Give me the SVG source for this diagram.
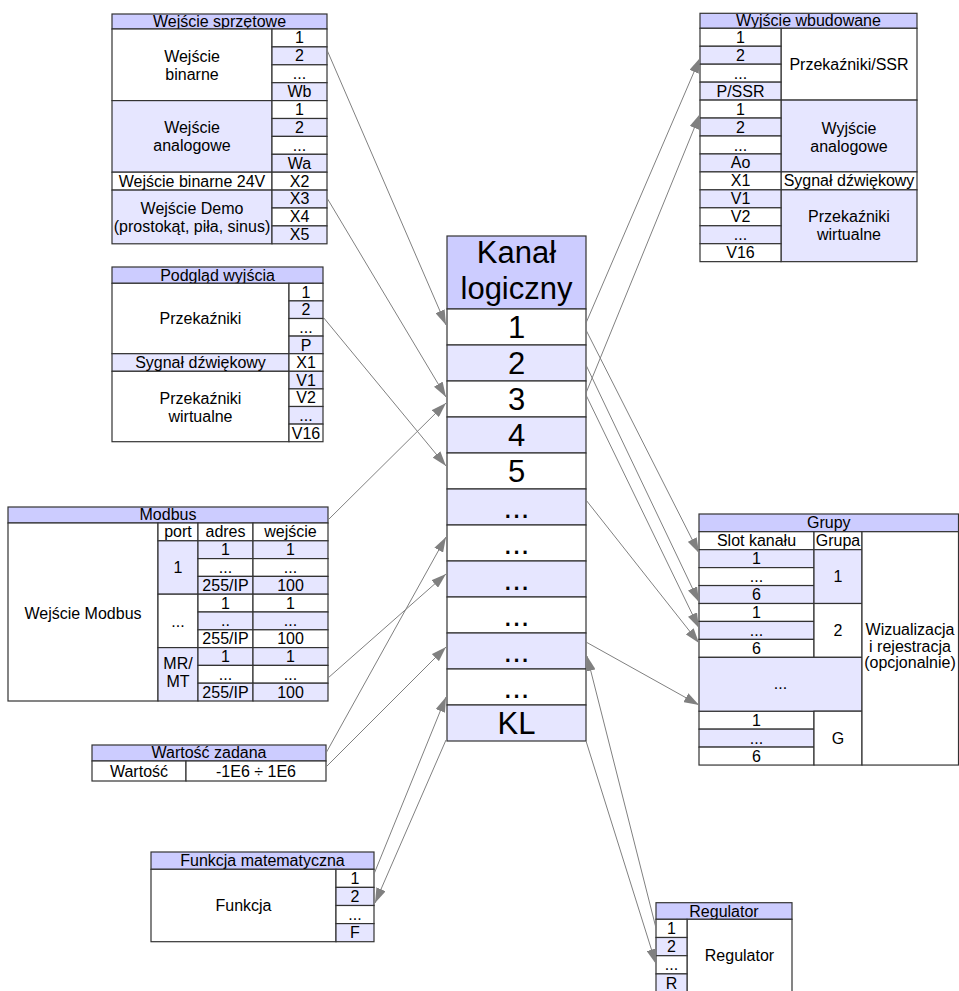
<svg xmlns="http://www.w3.org/2000/svg" width="959" height="991" viewBox="0 0 959 991">
<style>
.w,.l,.h{stroke:#333;stroke-width:1.2}
.w{fill:#fff}
.l{fill:#e6e6ff}
.h{fill:#ccccff}
text{font-family:"Liberation Sans",Arial,sans-serif;font-size:16px;text-anchor:middle;fill:#000}
.b{font-size:31px}
.c line{stroke:#808080;stroke-width:1;marker-end:url(#ah)}
</style>
<defs>
<marker id="ah" markerUnits="userSpaceOnUse" markerWidth="15" markerHeight="10" refX="15" refY="5" orient="auto" viewBox="0 0 15 10"><path d="M0,0L15,5L0,10z" fill="#808080"/></marker>
</defs>
<rect x="0" y="0" width="959" height="991" fill="#fff"/>

<g id="wejscie-sprzetowe">
<rect class="h" x="112" y="14" width="215" height="15"/>
<text x="219.5" y="26.5">Wejście sprzętowe</text>
<rect class="w" x="112" y="29" width="160" height="71.6"/>
<rect class="l" x="112" y="100.6" width="160" height="71.6"/>
<rect class="w" x="112" y="172.2" width="160" height="17.9"/>
<rect class="l" x="112" y="190.1" width="160" height="53.7"/>
<text x="192" y="61.5">Wejście</text><text x="192" y="79.5">binarne</text>
<text x="192" y="133">Wejście</text><text x="192" y="151">analogowe</text>
<text x="192" y="186.5">Wejście binarne 24V</text>
<text x="192" y="213.5">Wejście Demo</text><text x="192" y="231.5">(prostokąt, piła, sinus)</text>
<rect class="w" x="272" y="29" width="55" height="17.9"/>
<rect class="l" x="272" y="46.9" width="55" height="17.9"/>
<rect class="w" x="272" y="64.8" width="55" height="17.9"/>
<rect class="l" x="272" y="82.7" width="55" height="17.9"/>
<rect class="w" x="272" y="100.6" width="55" height="17.9"/>
<rect class="l" x="272" y="118.5" width="55" height="17.9"/>
<rect class="w" x="272" y="136.4" width="55" height="17.9"/>
<rect class="l" x="272" y="154.3" width="55" height="17.9"/>
<rect class="w" x="272" y="172.2" width="55" height="17.9"/>
<rect class="l" x="272" y="190.1" width="55" height="17.9"/>
<rect class="w" x="272" y="208" width="55" height="17.9"/>
<rect class="l" x="272" y="225.9" width="55" height="17.9"/>
<text x="299.5" y="43.3">1</text>
<text x="299.5" y="61.2">2</text>
<text x="299.5" y="79.1">...</text>
<text x="299.5" y="97">Wb</text>
<text x="299.5" y="114.9">1</text>
<text x="299.5" y="132.8">2</text>
<text x="299.5" y="150.7">...</text>
<text x="299.5" y="168.6">Wa</text>
<text x="299.5" y="186.5">X2</text>
<text x="299.5" y="204.4">X3</text>
<text x="299.5" y="222.3">X4</text>
<text x="299.5" y="240.2">X5</text>
</g>

<g id="podglad-wyjscia">
<rect class="h" x="112" y="267" width="211" height="16.3"/>
<text x="217.5" y="280.5">Podgląd wyjścia</text>
<rect class="w" x="112" y="283.3" width="177" height="70.4"/>
<rect class="l" x="112" y="353.7" width="177" height="17.6"/>
<rect class="w" x="112" y="371.3" width="177" height="70.4"/>
<text x="200.5" y="324">Przekaźniki</text>
<text x="200.5" y="368.2">Sygnał dźwiękowy</text>
<text x="200.5" y="403.5">Przekaźniki</text><text x="200.5" y="421.5">wirtualne</text>
<rect class="w" x="289" y="283.3" width="34" height="17.6"/>
<rect class="l" x="289" y="300.9" width="34" height="17.6"/>
<rect class="w" x="289" y="318.5" width="34" height="17.6"/>
<rect class="l" x="289" y="336.1" width="34" height="17.6"/>
<rect class="w" x="289" y="353.7" width="34" height="17.6"/>
<rect class="l" x="289" y="371.3" width="34" height="17.6"/>
<rect class="w" x="289" y="388.9" width="34" height="17.6"/>
<rect class="l" x="289" y="406.5" width="34" height="17.6"/>
<rect class="w" x="289" y="424.1" width="34" height="17.6"/>
<text x="306" y="297.8">1</text>
<text x="306" y="315.4">2</text>
<text x="306" y="333">...</text>
<text x="306" y="350.6">P</text>
<text x="306" y="368.2">X1</text>
<text x="306" y="385.8">V1</text>
<text x="306" y="403.4">V2</text>
<text x="306" y="421">...</text>
<text x="306" y="438.6">V16</text>
</g>

<g id="modbus">
<rect class="h" x="8" y="507" width="320" height="16"/>
<text x="168" y="520">Modbus</text>
<rect class="w" x="8" y="523" width="150" height="178"/>
<text x="83" y="619">Wejście Modbus</text>
<rect class="w" x="158" y="523" width="40" height="17.8"/>
<rect class="w" x="198" y="523" width="55" height="17.8"/>
<rect class="w" x="253" y="523" width="75" height="17.8"/>
<text x="178" y="537.2">port</text><text x="225.5" y="537.2">adres</text><text x="290.5" y="537.2">wejście</text>
<rect class="l" x="158" y="540.8" width="40" height="53.4"/>
<rect class="w" x="158" y="594.2" width="40" height="53.4"/>
<rect class="l" x="158" y="647.6" width="40" height="53.4"/>
<text x="178" y="573">1</text>
<text x="178" y="626.5">...</text>
<text x="178" y="668.5">MR/</text><text x="178" y="686.5">MT</text>
<rect class="l" x="198" y="540.8" width="55" height="17.8"/><rect class="l" x="253" y="540.8" width="75" height="17.8"/>
<rect class="w" x="198" y="558.6" width="55" height="17.8"/><rect class="w" x="253" y="558.6" width="75" height="17.8"/>
<rect class="l" x="198" y="576.4" width="55" height="17.8"/><rect class="l" x="253" y="576.4" width="75" height="17.8"/>
<rect class="w" x="198" y="594.2" width="55" height="17.8"/><rect class="w" x="253" y="594.2" width="75" height="17.8"/>
<rect class="l" x="198" y="612" width="55" height="17.8"/><rect class="l" x="253" y="612" width="75" height="17.8"/>
<rect class="w" x="198" y="629.8" width="55" height="17.8"/><rect class="w" x="253" y="629.8" width="75" height="17.8"/>
<rect class="l" x="198" y="647.6" width="55" height="17.8"/><rect class="l" x="253" y="647.6" width="75" height="17.8"/>
<rect class="w" x="198" y="665.4" width="55" height="17.8"/><rect class="w" x="253" y="665.4" width="75" height="17.8"/>
<rect class="l" x="198" y="683.2" width="55" height="17.8"/><rect class="l" x="253" y="683.2" width="75" height="17.8"/>
<text x="225.5" y="555.2">1</text><text x="290.5" y="555.2">1</text>
<text x="225.5" y="573">...</text><text x="290.5" y="573">...</text>
<text x="225.5" y="590.8">255/IP</text><text x="290.5" y="590.8">100</text>
<text x="225.5" y="608.6">1</text><text x="290.5" y="608.6">1</text>
<text x="225.5" y="626.4">..</text><text x="290.5" y="626.4">...</text>
<text x="225.5" y="644.2">255/IP</text><text x="290.5" y="644.2">100</text>
<text x="225.5" y="662">1</text><text x="290.5" y="662">1</text>
<text x="225.5" y="679.8">...</text><text x="290.5" y="679.8">...</text>
<text x="225.5" y="697.6">255/IP</text><text x="290.5" y="697.6">100</text>
</g>

<g id="wartosc-zadana">
<rect class="h" x="92" y="745" width="234" height="16"/>
<text x="209" y="758">Wartość zadana</text>
<rect class="w" x="92" y="761" width="94" height="20"/>
<rect class="w" x="186" y="761" width="140" height="20"/>
<text x="139" y="776.5">Wartość</text>
<text x="256" y="776.5">-1E6 ÷ 1E6</text>
</g>

<g id="funkcja-matematyczna">
<rect class="h" x="151" y="852" width="223" height="17.3"/>
<text x="262.5" y="866">Funkcja matematyczna</text>
<rect class="w" x="151" y="869.3" width="185" height="72.4"/>
<text x="243.5" y="911">Funkcja</text>
<rect class="w" x="336" y="869.3" width="38" height="18.1"/>
<rect class="l" x="336" y="887.4" width="38" height="18.1"/>
<rect class="w" x="336" y="905.5" width="38" height="18.1"/>
<rect class="l" x="336" y="923.6" width="38" height="18.1"/>
<text x="355" y="883.8">1</text>
<text x="355" y="901.9">2</text>
<text x="355" y="920">...</text>
<text x="355" y="938.1">F</text>
</g>

<g id="kanal-logiczny">
<rect class="h" x="447" y="236" width="139" height="73"/>
<text class="b" x="516.5" y="263">Kanał</text>
<text class="b" x="516.5" y="299">logiczny</text>
<rect class="w" x="447" y="309" width="139" height="36"/>
<rect class="l" x="447" y="345" width="139" height="36"/>
<rect class="w" x="447" y="381" width="139" height="36"/>
<rect class="l" x="447" y="417" width="139" height="36"/>
<rect class="w" x="447" y="453" width="139" height="36"/>
<rect class="l" x="447" y="489" width="139" height="36"/>
<rect class="w" x="447" y="525" width="139" height="36"/>
<rect class="l" x="447" y="561" width="139" height="36"/>
<rect class="w" x="447" y="597" width="139" height="36"/>
<rect class="l" x="447" y="633" width="139" height="36"/>
<rect class="w" x="447" y="669" width="139" height="36"/>
<rect class="l" x="447" y="705" width="139" height="36"/>
<text class="b" x="516.5" y="338">1</text>
<text class="b" x="516.5" y="374">2</text>
<text class="b" x="516.5" y="410">3</text>
<text class="b" x="516.5" y="446">4</text>
<text class="b" x="516.5" y="482">5</text>
<text class="b" x="516.5" y="518">...</text>
<text class="b" x="516.5" y="554">...</text>
<text class="b" x="516.5" y="590">...</text>
<text class="b" x="516.5" y="626">...</text>
<text class="b" x="516.5" y="662">...</text>
<text class="b" x="516.5" y="698">...</text>
<text class="b" x="516.5" y="734">KL</text>
</g>

<g id="wyjscie-wbudowane">
<rect class="h" x="700" y="13.3" width="217" height="15"/>
<text x="808.5" y="25.8">Wyjście wbudowane</text>
<rect class="w" x="781" y="28.3" width="136" height="71.8"/>
<rect class="l" x="781" y="100.1" width="136" height="71.8"/>
<rect class="w" x="781" y="171.9" width="136" height="17.95"/>
<rect class="l" x="781" y="189.85" width="136" height="71.8"/>
<text x="849" y="69.9">Przekaźniki/SSR</text>
<text x="849" y="134">Wyjście</text><text x="849" y="152">analogowe</text>
<text x="849" y="186.4">Sygnał dźwiękowy</text>
<text x="849" y="222">Przekaźniki</text><text x="849" y="240">wirtualne</text>
<rect class="w" x="700" y="28.3" width="81" height="17.95"/>
<rect class="l" x="700" y="46.25" width="81" height="17.95"/>
<rect class="w" x="700" y="64.2" width="81" height="17.95"/>
<rect class="l" x="700" y="82.15" width="81" height="17.95"/>
<rect class="w" x="700" y="100.1" width="81" height="17.95"/>
<rect class="l" x="700" y="118.05" width="81" height="17.95"/>
<rect class="w" x="700" y="136" width="81" height="17.95"/>
<rect class="l" x="700" y="153.95" width="81" height="17.95"/>
<rect class="w" x="700" y="171.9" width="81" height="17.95"/>
<rect class="l" x="700" y="189.85" width="81" height="17.95"/>
<rect class="w" x="700" y="207.8" width="81" height="17.95"/>
<rect class="l" x="700" y="225.75" width="81" height="17.95"/>
<rect class="w" x="700" y="243.7" width="81" height="17.95"/>
<text x="740.5" y="42.8">1</text>
<text x="740.5" y="60.75">2</text>
<text x="740.5" y="78.7">...</text>
<text x="740.5" y="96.65">P/SSR</text>
<text x="740.5" y="114.6">1</text>
<text x="740.5" y="132.55">2</text>
<text x="740.5" y="150.5">...</text>
<text x="740.5" y="168.45">Ao</text>
<text x="740.5" y="186.4">X1</text>
<text x="740.5" y="204.35">V1</text>
<text x="740.5" y="222.3">V2</text>
<text x="740.5" y="240.25">...</text>
<text x="740.5" y="258.2">V16</text>
</g>

<g id="grupy">
<rect class="h" x="699" y="514" width="259.5" height="17.7"/>
<text x="828.75" y="528">Grupy</text>
<rect class="w" x="699" y="531.7" width="115" height="17.95"/>
<rect class="w" x="814" y="531.7" width="48" height="17.95"/>
<text x="756.5" y="546.2">Slot kanału</text>
<text x="838" y="546.2">Grupa</text>
<rect class="l" x="699" y="549.65" width="115" height="17.95"/>
<rect class="w" x="699" y="567.6" width="115" height="17.95"/>
<rect class="l" x="699" y="585.55" width="115" height="17.95"/>
<rect class="w" x="699" y="603.5" width="115" height="17.95"/>
<rect class="l" x="699" y="621.45" width="115" height="17.95"/>
<rect class="w" x="699" y="639.4" width="115" height="17.95"/>
<rect class="w" x="699" y="711.2" width="115" height="17.95"/>
<rect class="l" x="699" y="729.15" width="115" height="17.95"/>
<rect class="w" x="699" y="747.1" width="115" height="17.95"/>
<text x="756.5" y="564.15">1</text>
<text x="756.5" y="582.1">...</text>
<text x="756.5" y="600.05">6</text>
<text x="756.5" y="618">1</text>
<text x="756.5" y="635.95">...</text>
<text x="756.5" y="653.9">6</text>
<text x="756.5" y="725.7">1</text>
<text x="756.5" y="743.65">...</text>
<text x="756.5" y="761.6">6</text>
<rect class="l" x="814" y="549.65" width="48" height="53.85"/>
<rect class="w" x="814" y="603.5" width="48" height="53.85"/>
<rect class="l" x="699" y="657.35" width="163" height="53.85"/>
<rect class="w" x="814" y="711.2" width="48" height="53.85"/>
<text x="838" y="582.3">1</text>
<text x="838" y="636.2">2</text>
<text x="780.5" y="689">...</text>
<text x="838" y="743.9">G</text>
<rect class="w" x="862" y="531.7" width="96.5" height="233.35"/>
<text x="910" y="635">Wizualizacja</text>
<text x="910" y="651.5">i rejestracja</text>
<text x="910" y="668">(opcjonalnie)</text>
</g>

<g id="regulator">
<rect class="h" x="656" y="902.7" width="136" height="16.6"/>
<text x="724" y="916.5">Regulator</text>
<rect class="w" x="687" y="919.3" width="105" height="73"/>
<text x="739.5" y="961">Regulator</text>
<rect class="w" x="656" y="919.3" width="31" height="18.2"/>
<rect class="l" x="656" y="937.5" width="31" height="18.2"/>
<rect class="w" x="656" y="955.7" width="31" height="18.2"/>
<rect class="l" x="656" y="973.9" width="31" height="18.2"/>
<text x="671.5" y="933.9">1</text>
<text x="671.5" y="952.1">2</text>
<text x="671.5" y="970.3">...</text>
<text x="671.5" y="988.5">R</text>
</g>

<g id="connectors" class="c">
<line x1="327" y1="50" x2="446" y2="325"/>
<line x1="327" y1="198" x2="446" y2="397"/>
<line x1="323" y1="317" x2="446" y2="466"/>
<line x1="328" y1="520" x2="446" y2="403"/>
<line x1="328" y1="678" x2="446" y2="574"/>
<line x1="326" y1="753" x2="446" y2="537"/>
<line x1="326" y1="767" x2="446" y2="647"/>
<line x1="374" y1="874" x2="446" y2="697"/>
<line x1="446" y1="740" x2="375" y2="903"/>
<line x1="586" y1="323" x2="700" y2="58"/>
<line x1="586" y1="393" x2="700" y2="114"/>
<line x1="586" y1="330" x2="699" y2="553"/>
<line x1="586" y1="365" x2="699" y2="602"/>
<line x1="586" y1="395" x2="699" y2="628"/>
<line x1="586" y1="500" x2="699" y2="643"/>
<line x1="586" y1="642" x2="699" y2="705"/>
<line x1="656" y1="928" x2="587" y2="656"/>
<line x1="586" y1="741" x2="656" y2="964"/>
</g>
</svg>
